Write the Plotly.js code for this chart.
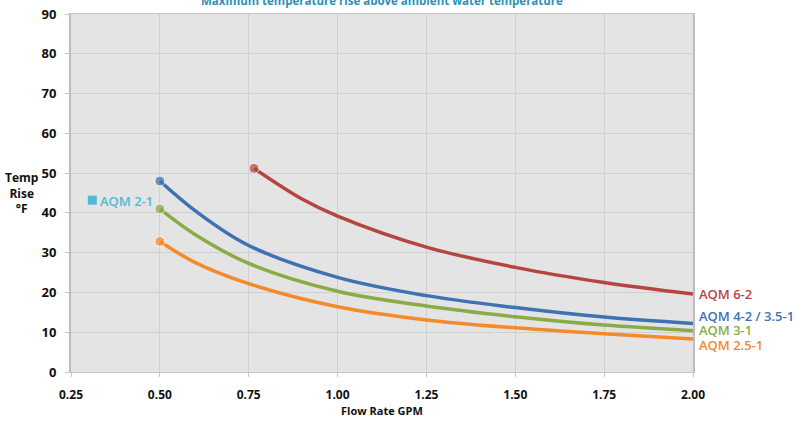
<!DOCTYPE html>
<html>
<head>
<meta charset="utf-8">
<script src="https://cdn.plot.ly/plotly-3.0.1.min.js"></script>
<style>html,body{margin:0;padding:0;background:#fff;}#chart{width:796px;height:422px;}</style>
</head>
<body>
<div id="chart"></div>
<script>
// Data
const flow62 = [0.765, 0.9, 1.0, 1.25, 1.5, 1.75, 2.0];
const rise62 = [51.2, 43.5, 39.2, 31.4, 26.3, 22.5, 19.6];
const flow42 = [0.5, 0.6, 0.75, 1.0, 1.25, 1.5, 1.75, 2.0];
const rise42 = [48.0, 40.5, 31.8, 23.8, 19.2, 16.2, 13.8, 12.2];
const flow31 = [0.5, 0.6, 0.75, 1.0, 1.25, 1.5, 1.75, 2.0];
const rise31 = [41.0, 34.5, 27.3, 20.3, 16.6, 13.9, 11.8, 10.4];
const flow251 = [0.5, 0.6, 0.75, 1.0, 1.25, 1.5, 1.75, 2.0];
const rise251 = [32.8, 27.5, 22.2, 16.4, 13.1, 11.1, 9.6, 8.3];
const flow21 = [0.31];
const rise21 = [43.2];
const xTicks = [0.25, 0.5, 0.75, 1.0, 1.25, 1.5, 1.75, 2.0];
const xTickText = ["0.25", "0.50", "0.75", "1.00", "1.25", "1.50", "1.75", "2.00"];
const yTicks = [0, 10, 20, 30, 40, 50, 60, 70, 80, 90];
const seriesNames = ["AQM 6-2", "AQM 4-2 / 3.5-1", "AQM 3-1", "AQM 2.5-1", "AQM 2-1"];

const colors = ["#b4463f", "#3d72b3", "#8aab45", "#f58a2a", "#4dbcd2"];
const FONT = "Open Sans, Roboto, sans-serif";

function curve(x, y, c, name) {
  return {
    x: x, y: y, name: name, type: "scatter", mode: "lines+markers",
    line: {color: c, width: 3.5, shape: "spline", smoothing: 1},
    marker: {color: c, size: x.map((v, i) => i === 0 ? 10 : 0)},
    hoverinfo: "x+y+name", cliponaxis: false
  };
}

const traces = [
  curve(flow62, rise62, colors[0], seriesNames[0]),
  curve(flow42, rise42, colors[1], seriesNames[1]),
  curve(flow31, rise31, colors[2], seriesNames[2]),
  curve(flow251, rise251, colors[3], seriesNames[3]),
  {x: flow21, y: rise21, name: seriesNames[4], type: "scatter", mode: "markers",
   marker: {color: colors[4], size: 9, symbol: "square"}, cliponaxis: false}
];

const labelFont = (c) => ({family: FONT, size: 13, color: c, weight: 600});
const ann = [
  {text: "Maximum temperature rise above ambient water temperature", xref: "paper", yref: "paper",
   x: 0.5, y: 1.039, xanchor: "center", yanchor: "middle", showarrow: false,
   font: {family: FONT, size: 11.5, color: "#2a92b8", weight: 700}},
  {text: "Temp<br>Rise<br>°F", xref: "paper", yref: "paper", x: -0.079, y: 0.5, xanchor: "center",
   yanchor: "middle", showarrow: false, align: "center",
   font: {family: FONT, size: 12, color: "#111", weight: 700}},
  {text: "Flow Rate GPM", xref: "paper", yref: "paper", x: 0.5, y: 0, yanchor: "middle",
   yshift: -38, showarrow: false, font: {family: FONT, size: 11, color: "#111", weight: 700}},
  {text: seriesNames[0], x: 2.0, y: 19.7, xref: "x", yref: "y", xanchor: "left", xshift: 4,
   showarrow: false, font: labelFont(colors[0])},
  {text: seriesNames[1], x: 2.0, y: 14.1, xref: "x", yref: "y", xanchor: "left", xshift: 4,
   showarrow: false, font: labelFont(colors[1])},
  {text: seriesNames[2], x: 2.0, y: 10.5, xref: "x", yref: "y", xanchor: "left", xshift: 4,
   showarrow: false, font: labelFont(colors[2])},
  {text: seriesNames[3], x: 2.0, y: 6.9, xref: "x", yref: "y", xanchor: "left", xshift: 4,
   showarrow: false, font: labelFont(colors[3])},
  {text: seriesNames[4], x: flow21[0], y: rise21[0], xref: "x", yref: "y", xanchor: "left", xshift: 6,
   yshift: -1, showarrow: false, font: labelFont(colors[4])}
];

const layout = {
  width: 796, height: 422,
  margin: {l: 71, r: 103, t: 14, b: 50},
  paper_bgcolor: "#ffffff", plot_bgcolor: "#e4e4e4",
  showlegend: false,
  font: {family: FONT, color: "#111"},
  xaxis: {
    range: [0.25, 2.0], tickvals: xTicks, ticktext: xTickText,
    showgrid: true, gridcolor: "#d0d0d0", gridwidth: 1,
    zeroline: false, showline: true, linecolor: "#c6c6c6", linewidth: 1, mirror: true,
    ticks: "outside", ticklen: 4, tickcolor: "#c6c6c6",
    tickfont: {family: FONT, size: 12, color: "#111", weight: 700}, ticklabelstandoff: 8
  },
  yaxis: {
    range: [0, 90], tickvals: yTicks,
    showgrid: true, gridcolor: "#d0d0d0", gridwidth: 1,
    zeroline: false, showline: true, linecolor: "#bdbdbd", linewidth: 2, mirror: true,
    ticks: "outside", ticklen: 4, tickcolor: "#c6c6c6",
    tickfont: {family: FONT, size: 13, color: "#111", weight: 700}, ticklabelstandoff: 6
  },
  annotations: ann
};

Plotly.newPlot("chart", traces, layout, {displayModeBar: false, staticPlot: true});
</script>
</body>
</html>
